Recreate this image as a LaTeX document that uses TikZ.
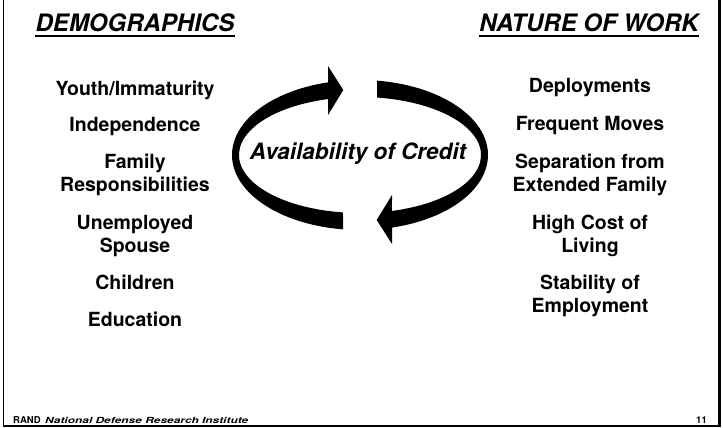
\documentclass[tikz,border=0pt]{standalone}
\usepackage{fontspec}
\setmainfont{TeX Gyre Heros}
\usetikzlibrary{calc}
\tikzset{
  item/.style={font=\fontsize{19.5}{23.5}\selectfont\bfseries, align=center, anchor=base, inner sep=0pt},
  header/.style={font=\fontsize{24}{28}\selectfont\bfseries\itshape, anchor=base, inner sep=0pt},
  uline/.style={line width=2pt},
  ring/.style={fill=black}
}
\begin{document}
\begin{tikzpicture}[x=1pt,y=1pt]
\useasboundingbox (0,0) rectangle (723,428);
% frame
\draw[line width=1.5pt] (3.5,428) -- (3.5,2) -- (719.5,2);
\draw[line width=3pt] (719.5,428) -- (719.5,1.2);
% headers
\node[header] (dem) at (135,396) {DEMOGRAPHICS};
\draw[uline] ([yshift=-4.5pt]dem.base west) -- ([yshift=-4.5pt]dem.base east);
\node[header] (now) at (589,396) {NATURE OF WORK};
\draw[uline] ([yshift=-4.5pt]now.base west) -- ([yshift=-4.5pt]now.base east);
% left items (base = baseline of last line)
\node[item] (l1) at (135,332) {Youth/Immaturity};
\node[item] (l2) at (135,296) {Independence};
\node[item] (l3) at (135,236) {Family\\Responsibilities};
\node[item] (l4) at (135,175) {Unemployed\\Spouse};
\node[item] (l5) at (135,138) {Children};
\node[item] (l6) at (135,101) {Education};
% right items
\node[item] (r1) at (590,335) {Deployments};
\node[item] (r2) at (590,297) {Frequent Moves};
\node[item] (r3) at (590,236) {Separation from\\Extended Family};
\node[item] (r4) at (590,175) {High Cost of\\Living};
\node[item] (r5) at (590,115) {Stability of\\Employment};
% cycle arrows
\coordinate (c) at (360,273);
\fill[ring] ({360+128*cos(262.37)},{273+75*sin(262.37)})
  arc[start angle=262.37, end angle=104.48, x radius=128pt, y radius=75pt]
  -- (328,362) -- (343.3,338) -- (328,313)
  -- ({360+121*cos(105.33)},{273+58*sin(105.33)})
  arc[start angle=105.33, end angle=261.92, x radius=121pt, y radius=58pt]
  -- cycle;
\begin{scope}[rotate around={180:(c)}]
\fill[ring] ({360+128*cos(262.37)},{273+75*sin(262.37)})
  arc[start angle=262.37, end angle=104.48, x radius=128pt, y radius=75pt]
  -- (328,362) -- (343.3,338) -- (328,313)
  -- ({360+121*cos(105.33)},{273+58*sin(105.33)})
  arc[start angle=105.33, end angle=261.92, x radius=121pt, y radius=58pt]
  -- cycle;
\end{scope}
\node[font=\fontsize{22.5}{26}\selectfont\bfseries\itshape, anchor=base, inner sep=0pt] (credit) at (358,268) {Availability of Credit};
% footer
\node[anchor=base west, inner sep=0pt, font=\fontsize{9.5}{11}\selectfont\bfseries] (rand) at (13,4.5) {RAND};
\node[anchor=base west, inner sep=0pt] (ndri) at (45,4.5) {\scalebox{1.42}[1]{\fontsize{8.4}{10}\selectfont\bfseries\itshape National Defense Research Institute}};
\node[anchor=base east, inner sep=0pt, font=\fontsize{9.5}{11}\selectfont\bfseries] (pg) at (707,4.5) {11};
\end{tikzpicture}
\end{document}
